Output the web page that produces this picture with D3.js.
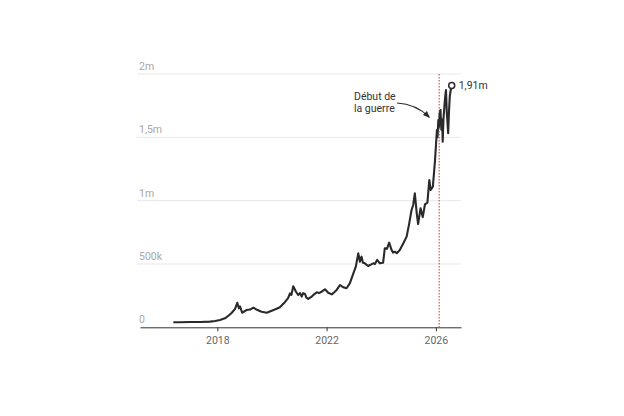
<!DOCTYPE html>
<html><head><meta charset="utf-8">
<script src="https://cdn.jsdelivr.net/npm/d3@7"></script>
<style>html,body{margin:0;padding:0;background:#fff;}svg{display:block;font-family:Roboto,"Noto Sans",sans-serif;}</style>
</head><body>
<svg id="c" width="624" height="416"></svg>
<script>
// decimal years and values (thousands)
const years = [2016.39,2016.64,2017.0,2017.37,2017.73,2017.92,2018.1,2018.28,2018.43,2018.53,2018.65,2018.73,2018.79,2018.83,2018.91,2019.08,2019.2,2019.32,2019.45,2019.62,2019.81,2019.99,2020.15,2020.29,2020.48,2020.59,2020.66,2020.71,2020.78,2020.88,2020.96,2021.03,2021.09,2021.14,2021.21,2021.26,2021.33,2021.45,2021.54,2021.64,2021.72,2021.82,2021.94,2022.06,2022.19,2022.27,2022.37,2022.49,2022.61,2022.73,2022.85,2022.98,2023.07,2023.16,2023.22,2023.28,2023.33,2023.4,2023.52,2023.62,2023.71,2023.77,2023.85,2023.95,2024.07,2024.13,2024.21,2024.29,2024.38,2024.43,2024.5,2024.57,2024.68,2024.81,2024.93,2025.02,2025.11,2025.17,2025.23,2025.3,2025.35,2025.44,2025.52,2025.6,2025.69,2025.76,2025.81,2025.89,2025.97,2026.0,2026.04,2026.06,2026.09,2026.11,2026.14,2026.17,2026.2,2026.23,2026.25,2026.28,2026.33,2026.37,2026.4,2026.45,2026.48,2026.51,2026.55,2026.58];
const values = [40,40,42,42,45,50,58,71,95,115,145,194,150,165,115,137,140,155,138,123,115,131,145,158,200,230,268,255,324,281,255,270,242,270,263,235,224,242,260,276,270,281,300,273,260,275,295,334,316,308,347,426,479,584,518,558,510,505,484,495,505,500,532,505,510,624,620,668,610,590,597,585,610,663,716,815,926,966,1058,900,815,940,870,970,985,1163,1084,1111,1321,1426,1560,1500,1637,1580,1690,1716,1560,1640,1466,1650,1795,1874,1700,1532,1700,1826,1880,1910];
const yTicks = [0,500,1000,1500,2000];
const yTickLabels = ["0","500k","1m","1,5m","2m"];
const xTicks = [2018,2022,2026];
const warYear = 2026.12;
const lastLabel = "1,91m";
const annotation = ["Début de","la guerre"];

const svg = d3.select("#c");
const x = d3.scaleLinear().domain([2015.17, 2026.92]).range([140, 461]);
const y = d3.scaleLinear().domain([0, 2000]).range([327.3, 74]);
const data = years.map((t,i)=>({t, v: values[i]}));

// grid
const g = svg.append("g");
g.selectAll("line.grid").data(yTicks.slice(1)).join("line")
  .attr("x1",137).attr("x2",461)
  .attr("y1",d=>y(d)).attr("y2",d=>y(d))
  .attr("stroke","#e8e8e8").attr("stroke-width",1);
g.selectAll("text.yl").data(yTicks).join("text")
  .attr("x",139).attr("y",d=>y(d)-4)
  .attr("fill","#a8a8a8").attr("font-size",10.5)
  .text((d,i)=>yTickLabels[i]);

// x axis
const xa = svg.append("g").attr("transform",`translate(0,${y(0)})`)
  .call(d3.axisBottom(x).tickValues(xTicks).tickFormat(d3.format("d")).tickSize(4).tickSizeOuter(0));
xa.select(".domain").attr("stroke","#333");
xa.selectAll(".tick line").attr("stroke","#333");
xa.selectAll(".tick text").attr("fill","#666").attr("font-size",10.5).attr("font-family","Roboto").attr("dy","0.95em");

// war line
svg.append("line").attr("x1",x(warYear)).attr("x2",x(warYear))
  .attr("y1",y(2000)).attr("y2",y(0))
  .attr("stroke","#c0392b").attr("stroke-width",1).attr("stroke-dasharray","1.5,1.5");

// series line
svg.append("path").datum(data)
  .attr("d", d3.line().x(d=>x(d.t)).y(d=>y(d.v)))
  .attr("fill","none").attr("stroke","#2a2a2a").attr("stroke-width",2.1).attr("stroke-linejoin","round");

// end point
const last = data[data.length-1];
svg.append("circle").attr("cx",x(last.t)).attr("cy",y(last.v)).attr("r",3)
  .attr("fill","#fff").attr("stroke","#2a2a2a").attr("stroke-width",1.5);
svg.append("text").attr("x",x(last.t)+7).attr("y",y(last.v)+4)
  .attr("fill","#333").attr("font-size",10.5).text(lastLabel);

// annotation
const at = svg.append("text").attr("fill","#333").attr("font-size",10.5);
annotation.forEach((s,i)=>at.append("tspan").attr("x",354).attr("y",100+i*12).text(s));
svg.append("defs").append("marker").attr("id","ah").attr("viewBox","0 0 10 10")
  .attr("refX",8).attr("refY",5).attr("markerWidth",6).attr("markerHeight",6).attr("orient","auto")
  .append("path").attr("d","M0,1 L10,5 L0,9 Z").attr("fill","#2a2a2a");
svg.append("path").attr("d","M397,103 Q416,104 429,117")
  .attr("fill","none").attr("stroke","#2a2a2a").attr("stroke-width",1.2).attr("marker-end","url(#ah)");
</script>
</body></html>
